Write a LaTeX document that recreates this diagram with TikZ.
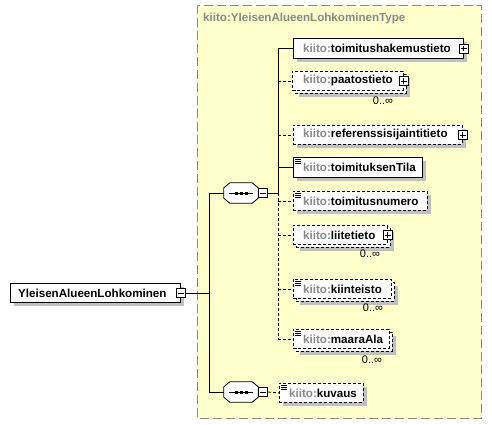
\documentclass[tikz,border=0pt]{standalone}
\usepackage{fontspec}
\setmainfont{Liberation Sans}
\usetikzlibrary{shadows}
\definecolor{bgyellow}{RGB}{255,255,204}
\definecolor{shadowgray}{RGB}{192,192,192}
\definecolor{kgray}{RGB}{136,136,136}
\newcommand{\kt}{{\color{kgray}kiito:}}
\tikzset{
  eshadow/.style={drop shadow={shadow xshift=4bp,shadow yshift=-4bp,fill=shadowgray,opacity=1}},
  ebox/.style={draw=black,fill=white,line width=0.8bp,anchor=north west,inner sep=0pt,rectangle},
  optbox/.style={ebox,dash pattern=on 3bp off 2bp},
  etext/.style={anchor=west,inner sep=0pt,font=\fontsize{11.6bp}{13bp}\selectfont\bfseries},
  occ/.style={anchor=north,inner sep=0pt,font=\fontsize{11bp}{12bp}\selectfont},
  pmbox/.style={draw=black,fill=white,line width=0.8bp,minimum width=9bp,minimum height=9bp,inner sep=0pt,rectangle},
  seqbox/.style={rectangle,minimum width=34bp,minimum height=20bp,inner sep=0pt},
  conn/.style={line width=0.8bp},
  dconn/.style={line width=0.8bp,dash pattern=on 3bp off 2bp},
}
\newcommand{\plusmark}[1]{\draw[line width=0.8bp] ([xshift=-2.8bp]#1.center)--([xshift=2.8bp]#1.center) ([yshift=-2.8bp]#1.center)--([yshift=2.8bp]#1.center);}
\newcommand{\minusmark}[1]{\draw[line width=0.8bp] ([xshift=-2.8bp]#1.center)--([xshift=2.8bp]#1.center);}
\newcommand{\docicon}[1]{\draw[line width=0.7bp] ([xshift=2bp,yshift=-2bp]#1.north west)--++(6bp,0) ([xshift=2bp,yshift=-4bp]#1.north west)--++(6bp,0) ([xshift=2bp,yshift=-6bp]#1.north west)--++(6bp,0);}
\newcommand{\octpath}[1]{([xshift=6bp]#1.north west) -- ([xshift=-6bp]#1.north east) -- ([yshift=-5bp]#1.north east) -- ([yshift=5bp]#1.south east) -- ([xshift=-6bp]#1.south east) -- ([xshift=6bp]#1.south west) -- ([yshift=5bp]#1.south west) -- ([yshift=-5bp]#1.north west) -- cycle}
\newcommand{\octa}[1]{%
  \begin{scope}[shift={(4,4)}]\fill[shadowgray] \octpath{#1};\end{scope}
  \draw[fill=white,line width=0.8bp] \octpath{#1};
  \draw[line width=1bp] ([xshift=5bp]#1.west)--([xshift=-5bp]#1.east);
  \foreach \d in {-5,0,5}{\fill ([xshift=\d bp]#1.center) ++(-1.5bp,-1.5bp) rectangle ++(3bp,3bp);}
}
\begin{document}
\begin{tikzpicture}[x=1bp,y=-1bp]
\useasboundingbox (0,0) rectangle (492,424);
% type frame
\draw[fill=bgyellow,draw=kgray,line width=0.8bp,dash pattern=on 9bp off 4bp] (197,5) rectangle (481,418);
\node[anchor=west,inner sep=0pt,text=kgray,font=\fontsize{11.6bp}{13bp}\selectfont\bfseries] (title) at (203,18) {kiito:YleisenAlueenLohkominenType};

% main element
\node[ebox,eshadow,minimum width=170bp,minimum height=19bp] (main) at (10,283) {};
\node[etext] (main-t) at ([xshift=8bp]main.west) {YleisenAlueenLohkominen};
\node[pmbox] (main-m) at (main.east) {}; \minusmark{main-m}

% sequence 1
\node[seqbox] (seq1) at (241,193) {};
\octa{seq1}
\node[pmbox] (seq1-m) at ([xshift=5bp]seq1.east) {}; \minusmark{seq1-m}
% sequence 2
\node[seqbox] (seq2) at (241,392) {};
\octa{seq2}
\node[pmbox] (seq2-m) at ([xshift=5bp]seq2.east) {}; \minusmark{seq2-m}

% elements
\node[ebox,eshadow,minimum width=170bp,minimum height=20bp] (toim) at (293,38) {};
\node[etext] (toim-t) at ([xshift=10bp]toim.west) {\kt toimitushakemustieto};
\node[pmbox] (toim-p) at (toim.east) {}; \plusmark{toim-p}

\node[optbox,minimum width=111bp,minimum height=19bp,eshadow] (paat-b) at (295,74) {};
\node[optbox,minimum width=111bp,minimum height=19bp] (paat) at (292,71) {};
\node[etext] (paat-t) at ([xshift=11bp]paat.west) {\kt paatostieto};
\node[pmbox] (paat-p) at (paat.east) {}; \plusmark{paat-p}
\node[occ] (paat-o) at (383,97) {0..∞};

\node[optbox,eshadow,minimum width=169bp,minimum height=19bp] (refe) at (293,125) {};
\node[etext] (refe-t) at ([xshift=10bp]refe.west) {\kt referenssisijaintitieto};
\node[pmbox] (refe-p) at (refe.east) {}; \plusmark{refe-p}

\node[ebox,eshadow,minimum width=129bp,minimum height=20bp] (tila) at (293,157) {};
\node[etext] (tila-t) at ([xshift=10bp]tila.west) {\kt toimituksenTila};
\docicon{tila}

\node[optbox,eshadow,minimum width=134bp,minimum height=19bp] (nume) at (293,191) {};
\node[etext] (nume-t) at ([xshift=10bp]nume.west) {\kt toimitusnumero};
\docicon{nume}

\node[optbox,minimum width=94bp,minimum height=19bp,eshadow] (liit-b) at (296,228) {};
\node[optbox,minimum width=94bp,minimum height=19bp] (liit) at (293,225) {};
\node[etext] (liit-t) at ([xshift=10bp]liit.west) {\kt liitetieto};
\node[pmbox] (liit-p) at (liit.east) {}; \plusmark{liit-p}
\node[occ] (liit-o) at (370,250) {0..∞};

\node[optbox,minimum width=98bp,minimum height=19bp,eshadow] (kiin-b) at (296,282) {};
\node[optbox,minimum width=98bp,minimum height=19bp] (kiin) at (293,279) {};
\node[etext] (kiin-t) at ([xshift=10bp]kiin.west) {\kt kiinteisto};
\docicon{kiin}
\node[occ] (kiin-o) at (373,304) {0..∞};

\node[optbox,minimum width=96bp,minimum height=19bp,eshadow] (maar-b) at (296,332) {};
\node[optbox,minimum width=96bp,minimum height=19bp] (maar) at (293,329) {};
\node[etext] (maar-t) at ([xshift=10bp]maar.west) {\kt maaraAla};
\docicon{maar}
\node[occ] (maar-o) at (372,356) {0..∞};

\node[optbox,eshadow,minimum width=84bp,minimum height=19bp] (kuva) at (279,383) {};
\node[etext] (kuva-t) at ([xshift=10bp]kuva.west) {\kt kuvaus};
\docicon{kuva}

% connectors
\coordinate (busA) at (209,0);
\coordinate (busB) at (278,0);
\draw[conn] (main-m.east) -- (main-m.east -| busA);
\draw[conn] (seq1.west -| busA) -- (seq2.west -| busA);
\draw[conn] (seq1.west -| busA) -- (seq1.west);
\draw[conn] (seq2.west -| busA) -- (seq2.west);
\draw[conn] (seq1-m.east) -- (seq1-m.east -| busB);
\draw[conn] (toim.west -| busB) -- (seq1-m.east -| busB);
\draw[dconn] (seq1-m.east -| busB) -- (maar.west -| busB);
\draw[conn] (toim.west -| busB) -- (toim.west);
\draw[conn] (tila.west -| busB) -- (tila.west);
\foreach \n in {paat,refe,nume,liit,kiin,maar}{
  \draw[dconn] (\n.west -| busB) -- (\n.west);
}
\draw[dconn] (seq2-m.east) -- (kuva.west);
\end{tikzpicture}
\end{document}
